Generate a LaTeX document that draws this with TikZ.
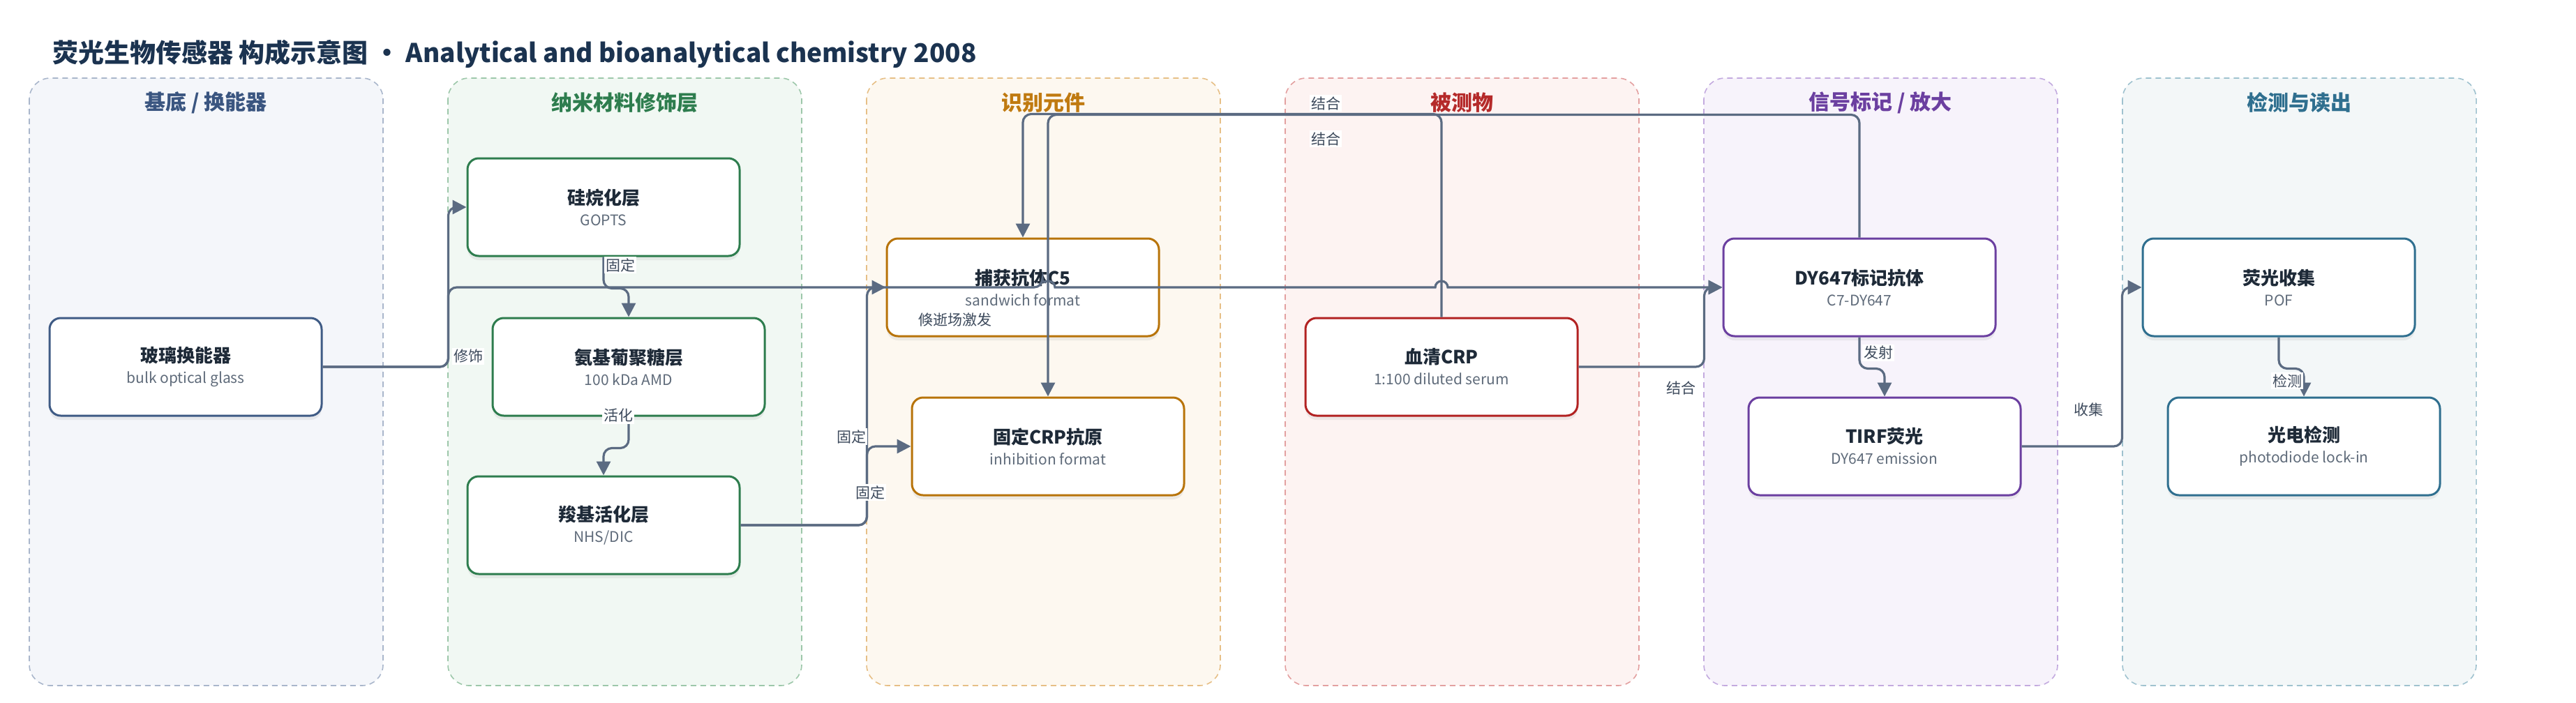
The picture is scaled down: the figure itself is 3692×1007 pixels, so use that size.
\documentclass[tikz,border=0pt]{standalone}
\usepackage{fontspec}
\setmainfont{Noto Sans CJK SC}
\usepackage{tikz}
\usetikzlibrary{arrows.meta}
\usetikzlibrary{shadows}
\definecolor{title_navy}{HTML}{1B3350}
\definecolor{edge_gray}{HTML}{5B6B82}
\definecolor{label_gray}{HTML}{3D4A5C}
\definecolor{node_text}{HTML}{1E2A38}
\definecolor{sub_gray}{HTML}{5F6B7A}
% lane colours: title, fill, dashed border, node border
\definecolor{base_title}{HTML}{3A5580}\definecolor{base_fill}{HTML}{F4F6FA}\definecolor{base_dash}{HTML}{A9B6CB}\definecolor{base_line}{HTML}{3F5B85}
\definecolor{nano_title}{HTML}{2E7D4E}\definecolor{nano_fill}{HTML}{F1F8F3}\definecolor{nano_dash}{HTML}{9DC7AA}\definecolor{nano_line}{HTML}{2E7D4E}
\definecolor{recog_title}{HTML}{C07A10}\definecolor{recog_fill}{HTML}{FDF8F0}\definecolor{recog_dash}{HTML}{E6BF86}\definecolor{recog_line}{HTML}{B8740A}
\definecolor{ana_title}{HTML}{B52A2A}\definecolor{ana_fill}{HTML}{FDF3F2}\definecolor{ana_dash}{HTML}{E3A0A0}\definecolor{ana_line}{HTML}{B22222}
\definecolor{sig_title}{HTML}{6B3FA0}\definecolor{sig_fill}{HTML}{F7F3FB}\definecolor{sig_dash}{HTML}{C3AADF}\definecolor{sig_line}{HTML}{6B3FA0}
\definecolor{det_title}{HTML}{2F6F8F}\definecolor{det_fill}{HTML}{F3F7F8}\definecolor{det_dash}{HTML}{9FC2CF}\definecolor{det_line}{HTML}{2F6F8F}

\newcommand\boxtext[2]{{\fontsize{13}{15}\selectfont\bfseries #1}\\[3pt]{\fontsize{10.5}{12}\selectfont\color{sub_gray}#2}}

\begin{document}
\begin{tikzpicture}[x=0.5pt,y=-0.5pt,
  lane/.style={rounded corners=15pt,dash pattern=on 4pt off 3pt,line width=0.8pt},
  lane_title/.style={font=\fontsize{15}{18}\selectfont\bfseries},
  blk/.style={rectangle,draw,line width=1.5pt,fill=white,rounded corners=8pt,minimum width=195pt,minimum height=70pt,align=center,text=node_text,
    drop shadow={shadow xshift=0pt,shadow yshift=-3pt,opacity=0.12}},
  blk_base/.style={blk,draw=base_line},
  blk_nano/.style={blk,draw=nano_line},
  blk_recog/.style={blk,draw=recog_line},
  blk_ana/.style={blk,draw=ana_line},
  blk_sig/.style={blk,draw=sig_line},
  blk_det/.style={blk,draw=det_line},
  flow/.style={draw=edge_gray,line width=1.6pt,rounded corners=6pt,-{Triangle[length=10pt,width=10pt]}},
  lbl/.style={fill=white,inner sep=1pt,text=label_gray,font=\fontsize{10.5}{12}\selectfont}
  ]

\useasboundingbox (0,0) rectangle (3692,1007);

% title
\node[anchor=west,inner sep=0pt,text=title_navy,font=\fontsize{18.5}{22}\selectfont\bfseries] (title) at (75,77) {荧光生物传感器 构成示意图 · Analytical and bioanalytical chemistry 2008};

% lanes
\path[lane,draw=base_dash,fill=base_fill] (42,112) rectangle ++(507,871);
\path[lane,draw=nano_dash,fill=nano_fill] (642,112) rectangle ++(507,871);
\path[lane,draw=recog_dash,fill=recog_fill] (1242,112) rectangle ++(507,871);
\path[lane,draw=ana_dash,fill=ana_fill] (1842,112) rectangle ++(507,871);
\path[lane,draw=sig_dash,fill=sig_fill] (2442,112) rectangle ++(507,871);
\path[lane,draw=det_dash,fill=det_fill] (3042,112) rectangle ++(507,871);

\node[lane_title,text=base_title] (lane_base) at (295,147) {基底 / 换能器};
\node[lane_title,text=nano_title] (lane_nano) at (895,147) {纳米材料修饰层};
\node[lane_title,text=recog_title] (lane_recog) at (1495,147) {识别元件};
\node[lane_title,text=ana_title] (lane_ana) at (2095,147) {被测物};
\node[lane_title,text=sig_title] (lane_sig) at (2695,147) {信号标记 / 放大};
\node[lane_title,text=det_title] (lane_det) at (3295,147) {检测与读出};

% blocks
\node[blk_base] (glass) at (266,526) {\boxtext{玻璃换能器}{bulk optical glass}};
\node[blk_nano] (silane) at (865,297) {\boxtext{硅烷化层}{GOPTS}};
\node[blk_nano] (amd) at (901,526) {\boxtext{氨基葡聚糖层}{100 kDa AMD}};
\node[blk_nano] (nhs) at (865,753) {\boxtext{羧基活化层}{NHS/DIC}};
\node[blk_recog] (cap) at (1466,412) {\boxtext{捕获抗体C5}{sandwich format}};
\node[blk_recog] (antigen) at (1502,640) {\boxtext{固定CRP抗原}{inhibition format}};
\node[blk_ana] (crp) at (2066,526) {\boxtext{血清CRP}{1:100 diluted serum}};
\node[blk_sig] (dylab) at (2665,412) {\boxtext{DY647标记抗体}{C7-DY647}};
\node[blk_sig] (tirf) at (2701,640) {\boxtext{TIRF荧光}{DY647 emission}};
\node[blk_det] (pof) at (3266,412) {\boxtext{荧光收集}{POF}};
\node[blk_det] (pd) at (3302,640) {\boxtext{光电检测}{photodiode lock-in}};

% connectors
\draw[flow] (glass.east) -- ++(180,0) |- (silane.west);
\draw[flow] (glass.east) -- ++(180,0) |- (1494,412) [sharp corners] arc[start angle=180,end angle=360,radius=9] -- (2057,412) arc[start angle=180,end angle=360,radius=9] -- (dylab.west);
\draw[flow] (silane.south) -- ++(0,45) -| (amd.north);
\draw[flow] (amd.south) -- ++(0,45) -| (nhs.north);
\draw[flow] (nhs.east) -- ++(181,0) |- (cap.west);
\draw[flow] (nhs.east) -- ++(181,0) |- (antigen.west);
\draw[flow] (crp.north) -- ++(0,-291) -| (cap.north);
\draw[flow] (dylab.north) -- ++(0,-176) -| (antigen.north);
\draw[flow] (crp.east) -- ++(180,0) |- (dylab.west);
\draw[flow] (dylab.south) -- ++(0,45) -| (tirf.north);
\draw[flow] (tirf.east) -- ++(144,0) |- (pof.west);
\draw[flow] (pof.south) -- ++(0,45) -| (pd.north);

% labels
\node[lbl] (l_xiushi) at (671,511) {修饰};
\node[lbl] (l_evan) at (1369,459) {倏逝场激发};
\node[lbl] (l_guding1) at (889,380) {固定};
\node[lbl] (l_huohua) at (886,596) {活化};
\node[lbl] (l_guding2) at (1220,626) {固定};
\node[lbl] (l_guding3) at (1247,706) {固定};
\node[lbl] (l_jiehe1) at (1900,148) {结合};
\node[lbl] (l_jiehe2) at (1900,199) {结合};
\node[lbl] (l_jiehe3) at (2409,556) {结合};
\node[lbl] (l_fashe) at (2692,506) {发射};
\node[lbl] (l_shouji) at (2993,587) {收集};
\node[lbl] (l_jiance) at (3278,546) {检测};

\end{tikzpicture}
\end{document}
